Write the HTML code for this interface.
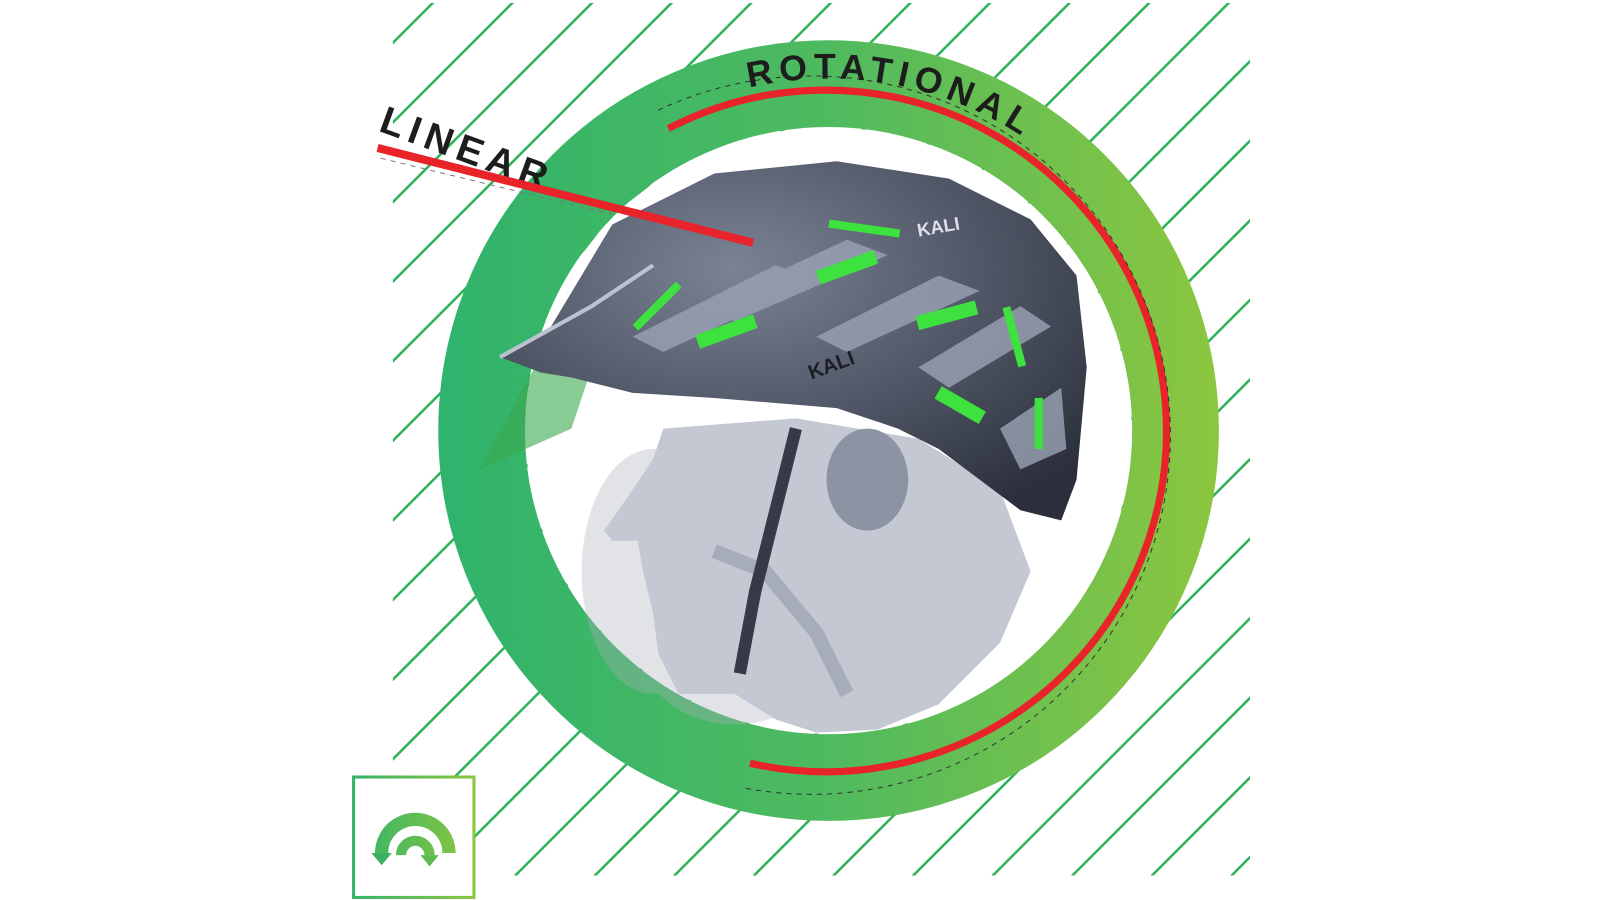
<!DOCTYPE html>
<html><head><meta charset="utf-8"><style>
html,body{margin:0;padding:0;background:#fff;width:1600px;height:900px;overflow:hidden}
svg{display:block}
</style></head><body>
<svg width="1600" height="900" viewBox="0 0 1600 900" xmlns="http://www.w3.org/2000/svg">
<defs>
<linearGradient id="rg" x1="430" y1="0" x2="1195" y2="0" gradientUnits="userSpaceOnUse">
<stop offset="0" stop-color="#2fb36c"/><stop offset="0.5" stop-color="#4fba5f"/><stop offset="1" stop-color="#8cc63f"/>
</linearGradient>
<linearGradient id="ig" x1="345" y1="0" x2="466" y2="0" gradientUnits="userSpaceOnUse">
<stop offset="0" stop-color="#33b36a"/><stop offset="1" stop-color="#8cc63f"/>
</linearGradient>
<clipPath id="hc"><rect x="385" y="3" width="840" height="855"/></clipPath>
<path id="tp" d="M 734 86 A 345 345 0 0 1 1060 182"/>
<radialGradient id="hg" cx="0.4" cy="0.3" r="0.8"><stop offset="0" stop-color="#7a8396"/><stop offset="1" stop-color="#2b2f3b"/></radialGradient>
</defs>
<g transform="scale(1.0204)">
<g clip-path="url(#hc)" stroke="#2fb35a" stroke-width="2.5" stroke-linecap="round">
<line x1="385" y1="42" x2="427" y2="0"/>
<line x1="385" y1="120" x2="505" y2="0"/>
<line x1="385" y1="198" x2="583" y2="0"/>
<line x1="385" y1="276" x2="661" y2="0"/>
<line x1="385" y1="354" x2="739" y2="0"/>
<line x1="385" y1="432" x2="817" y2="0"/>
<line x1="385" y1="510" x2="895" y2="0"/>
<line x1="385" y1="588" x2="973" y2="0"/>
<line x1="385" y1="666" x2="1051" y2="0"/>
<line x1="385" y1="744" x2="1129" y2="0"/>
<line x1="385" y1="822" x2="1207" y2="0"/>
<line x1="427" y1="858" x2="1225" y2="60"/>
<line x1="505" y1="858" x2="1225" y2="138"/>
<line x1="583" y1="858" x2="1225" y2="216"/>
<line x1="661" y1="858" x2="1225" y2="294"/>
<line x1="739" y1="858" x2="1225" y2="372"/>
<line x1="817" y1="858" x2="1225" y2="450"/>
<line x1="895" y1="858" x2="1225" y2="528"/>
<line x1="973" y1="858" x2="1225" y2="606"/>
<line x1="1051" y1="858" x2="1225" y2="684"/>
<line x1="1129" y1="858" x2="1225" y2="762"/>
<line x1="1207" y1="858" x2="1225" y2="840"/>
</g>
<circle cx="812" cy="422" r="340" fill="none" stroke="url(#rg)" stroke-width="85"/>
<circle cx="812" cy="422" r="297" fill="#fff"/>
<path d="M 655 126 A 334 334 0 1 1 735 748" fill="none" stroke="#e8232a" stroke-width="7"/>
<path d="M 645 108 A 352 352 0 1 1 728 772" fill="none" stroke="#333" stroke-width="1" stroke-dasharray="5 5"/>
<text font-family="Liberation Sans, sans-serif" font-weight="bold" font-size="35" fill="#1d1d1d" letter-spacing="6"><textPath href="#tp">ROTATIONAL</textPath></text>
<g opacity="0.35" fill="#aab0bb"><ellipse cx="640" cy="560" rx="70" ry="120"/><ellipse cx="720" cy="640" rx="90" ry="70"/></g>
<g fill="#3aa84e" opacity="0.6"><path d="M 470 460 L 540 330 L 600 300 L 560 420 Z"/></g>
<path d="M 650 420 L 640 450 L 620 480 L 592 520 L 600 530 L 625 530 L 630 560 L 640 600 L 645 640 L 665 680 L 720 680 L 760 705 L 800 718 L 860 715 L 920 690 L 980 630 L 1010 560 L 980 480 L 900 430 L 780 410 Z" fill="#c3c8d3"/>
<path d="M 700 540 L 750 560 L 800 620 L 830 680" stroke="#9aa0ad" stroke-width="14" fill="none" opacity="0.7"/>
<ellipse cx="850" cy="470" rx="40" ry="50" fill="#8c93a2"/>
<path d="M 490 350 L 540 320 L 600 220 L 700 170 L 820 158 L 930 175 L 1010 215 L 1055 270 L 1065 360 L 1055 470 L 1040 510 L 1000 500 L 960 470 L 920 440 L 880 420 L 820 400 L 760 395 L 700 390 L 620 385 L 560 370 L 530 365 Z" fill="url(#hg)"/>
<path d="M 490 350 L 580 300 L 640 260" stroke="#bcc3d0" stroke-width="4" fill="none"/>
<g fill="#9aa3b5" opacity="0.8">
<path d="M 620 330 L 760 260 L 800 275 L 650 345 Z"/>
<path d="M 690 300 L 830 235 L 870 250 L 720 315 Z"/>
<path d="M 800 330 L 920 270 L 960 285 L 830 345 Z"/>
<path d="M 900 360 L 1000 300 L 1030 320 L 930 380 Z"/>
<path d="M 980 420 L 1040 380 L 1045 440 L 1000 460 Z"/>
</g>
<path d="M 780 420 L 760 500 L 740 580 L 725 660" stroke="#353a46" stroke-width="12" fill="none"/>
<g fill="#3ee23e">
<rect x="682" y="318" width="60" height="14" transform="rotate(-20 712 325)"/>
<rect x="800" y="255" width="60" height="14" transform="rotate(-20 830 262)"/>
<rect x="898" y="302" width="60" height="14" transform="rotate(-15 928 309)"/>
<rect x="916" y="390" width="50" height="14" transform="rotate(30 941 397)"/>
<rect x="812" y="220" width="70" height="8" transform="rotate(8 847 224)"/>
<rect x="640" y="270" width="8" height="60" transform="rotate(45 644 300)"/>
<rect x="990" y="300" width="8" height="60" transform="rotate(-15 994 330)"/>
<rect x="1014" y="390" width="8" height="50"/>
</g>
<text x="795" y="372" font-family="Liberation Sans, sans-serif" font-weight="bold" font-size="20" fill="#1a1d24" transform="rotate(-20 795 372)">KALI</text>
<text x="900" y="232" font-family="Liberation Sans, sans-serif" font-weight="bold" font-size="18" fill="#dde" transform="rotate(-10 900 232)">KALI</text>
<text x="370" y="128" font-family="Liberation Sans, sans-serif" font-weight="bold" font-size="38" fill="#1d1d1d" letter-spacing="6" transform="rotate(20 370 128)">LINEAR</text>
<line x1="370" y1="145" x2="738" y2="238" stroke="#e8232a" stroke-width="8"/>
<line x1="373" y1="155" x2="600" y2="210" stroke="#777" stroke-width="1" stroke-dasharray="5 5"/>
<rect x="346.5" y="761.5" width="118" height="118" fill="#fff" stroke="url(#ig)" stroke-width="3"/>
<g fill="none" stroke="url(#ig)">
<path d="M 374 836 A 33 33 0 0 1 440 836" stroke-width="13"/>
<path d="M 393 838 A 14 14 0 0 1 421 838" stroke-width="10"/>
</g>
<path d="M 364 836 L 384 836 L 374 848 Z" fill="#3cb060"/>
<path d="M 412 838 L 430 838 L 421 849 Z" fill="#5cbb4f"/>
</g>
</svg>
</body></html>
